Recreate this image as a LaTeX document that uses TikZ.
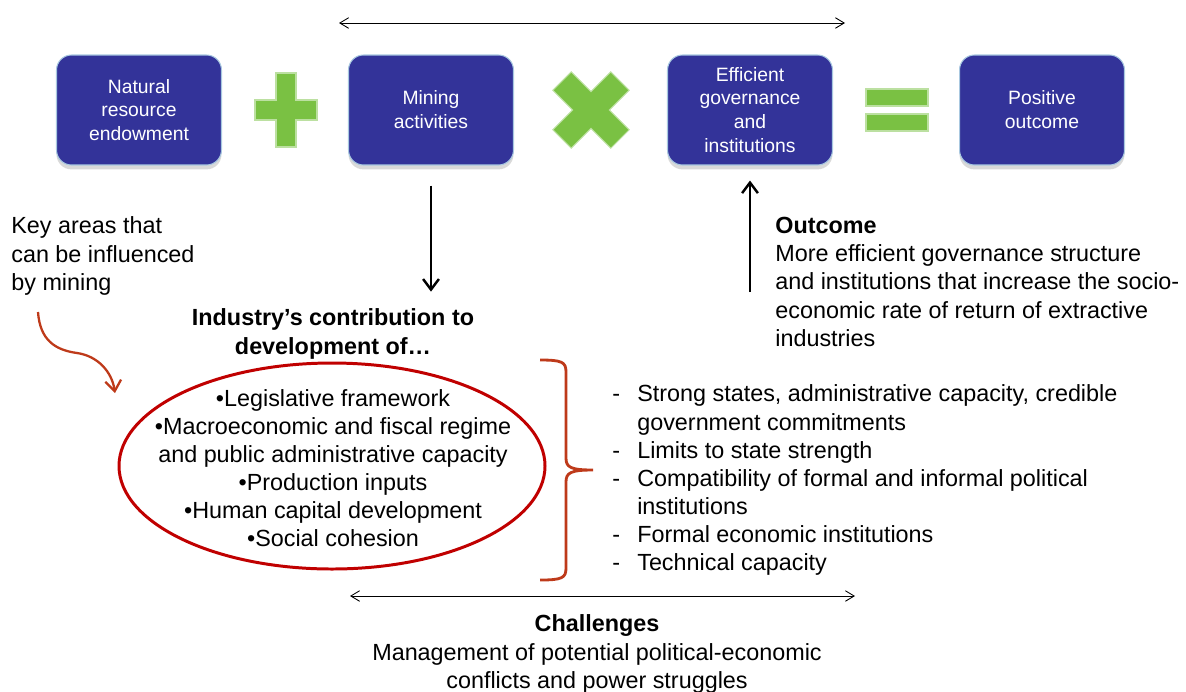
\documentclass[tikz,border=0pt]{standalone}
\usepackage{fontspec}
\setmainfont{Liberation Sans}
\usetikzlibrary{arrows.meta,shadows}

\definecolor{boxblue}{HTML}{333399}
\definecolor{boxedge}{HTML}{A8C8E0}
\definecolor{signgreen}{HTML}{7AC143}
\definecolor{ovalred}{HTML}{C00000}
\definecolor{bracered}{HTML}{BE3A1A}

\tikzset{
  bluebox/.style={rectangle, rounded corners=8.5pt, fill=boxblue, draw=boxedge,
    line width=0.6pt, text=white, align=center, minimum width=3.3cm,
    minimum height=2.2cm, font=\fontsize{11}{13.6}\selectfont,
    drop shadow={shadow xshift=0pt, shadow yshift=-2.5pt, opacity=0.3}},
  bodytext/.style={inner sep=0pt, font=\fontsize{13.3}{16}\selectfont},
  sign/.style={fill=signgreen, draw=signgreen!50!white, line width=0.6pt},
  spanarrow/.style={{Straight Barb[length=5pt,width=6pt]}-{Straight Barb[length=5pt,width=6pt]}, line width=0.5pt},
  flowarrow/.style={-{Straight Barb[length=6pt,width=9pt]}, line width=1.4pt},
  curvearrow/.style={-{Straight Barb[length=6pt,width=9pt]}, line width=1.3pt, draw=bracered},
}

\begin{document}
\begin{tikzpicture}[x=0.02cm,y=-0.02cm]
	\useasboundingbox (0,0) rectangle (1186,691);
	% the equation row
	\node[bluebox] (nature) at (139,110) {Natural\\resource\\endowment};
	\node[bluebox] (mining) at (431,110) {Mining\\activities};
	\node[bluebox] (govern) at (750,110) {Efficient\\governance\\and\\institutions};
	\node[bluebox] (positive) at (1042,110) {Positive\\outcome};
	% plus
	\begin{scope}[shift={(286,110)}]
		\filldraw[sign] (-10,-37) -- (10,-37) -- (10,-10) -- (31,-10) -- (31,10) -- (10,10)
			-- (10,37) -- (-10,37) -- (-10,10) -- (-31,10) -- (-31,-10) -- (-10,-10) -- cycle;
	\end{scope}
	% times
	\begin{scope}[shift={(591,110)}, rotate=45]
		\filldraw[sign] (-13,-41) -- (13,-41) -- (13,-13) -- (41,-13) -- (41,13) -- (13,13)
			-- (13,41) -- (-13,41) -- (-13,13) -- (-41,13) -- (-41,-13) -- (-13,-13) -- cycle;
	\end{scope}
	% equals
	\filldraw[sign] (866,89) rectangle (928,106);
	\filldraw[sign] (866,114) rectangle (928,131);
	\coordinate (topL) at (339,23);
	\coordinate (topR) at (845,23);
	\draw[spanarrow] (topL) -- (topR);

	% left part
	\node[bodytext, anchor=north west, align=left] (keyareas) at (11,216.6)
		{Key areas that\\can be influenced\\by mining};
	\coordinate (keyTail) at (38,312);
	\coordinate (keyHead) at (115,393);
	\draw[curvearrow] (keyTail) .. controls (40,340) and (55,350) .. (77,353)
		.. controls (98,356) and (112,372) .. (keyHead);
	\node[bodytext, anchor=north, align=center, font=\fontsize{13.3}{16}\selectfont\bfseries] (industry) at (333,308.6)
		{Industry’s contribution to\\development of…};
	\draw[flowarrow] ([yshift=-0.4cm]mining.south) -- ([yshift=0.34cm]mining.south |- industry.north);
	\node[bodytext, anchor=north, align=center] (focus) at (333,389)
		{•Legislative framework\\•Macroeconomic and fiscal regime\\and public administrative capacity\\•Production inputs\\•Human capital development\\•Social cohesion};
	\draw[ovalred, line width=1.7pt] (332,466) ellipse [x radius=213, y radius=103];
	% brace
	\draw[bracered, line width=1.6pt] (540,360) .. controls (562,360) and (566,362) .. (566,372)
		-- (566,458) .. controls (566,467) and (570,470) .. (593,470)
		.. controls (570,470) and (566,473) .. (566,482)
		-- (566,568) .. controls (566,578) and (562,580) .. (540,580);

	% right part
	\node[bodytext, anchor=north west, align=left] (outcome) at (775,217)
		{\textbf{Outcome}\\More efficient governance structure\\and institutions that increase the socio-\\economic rate of return of extractive\\industries};
	\coordinate (govTail) at (750,292);
	\draw[flowarrow] (govTail) -- ([yshift=-0.3cm]govern.south);
	\node[bodytext, anchor=north west, align=left] (factors) at (612,384.6)
		{\makebox[14.2pt][l]{-}Strong states, administrative capacity, credible\\
		\hspace*{14.2pt}government commitments\\
		\makebox[14.2pt][l]{-}Limits to state strength\\
		\makebox[14.2pt][l]{-}Compatibility of formal and informal political\\
		\hspace*{14.2pt}institutions\\
		\makebox[14.2pt][l]{-}Formal economic institutions\\
		\makebox[14.2pt][l]{-}Technical capacity};

	% bottom
	\coordinate (botL) at (350,596);
	\coordinate (botR) at (855,596);
	\draw[spanarrow] (botL) -- (botR);
	\node[bodytext, anchor=north, align=center] (challenges) at (597,614.6)
		{\textbf{Challenges}\\Management of potential political-economic\\conflicts and power struggles};
\end{tikzpicture}
\end{document}
